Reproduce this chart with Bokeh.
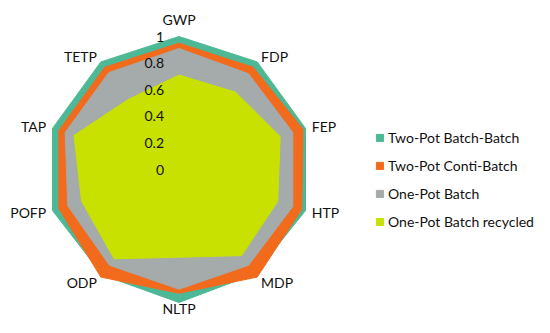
import numpy as np
from bokeh.plotting import figure
from bokeh.models import Range1d, Legend, LegendItem, ColumnDataSource
from bokeh.core.properties import value
from bokeh.embed import file_html
from bokeh.resources import INLINE

categories = ["GWP", "FDP", "FEP", "HTP", "MDP", "NLTP", "ODP", "POFP", "TAP", "TETP"]
series_names = ["Two-Pot Batch-Batch", "Two-Pot Conti-Batch", "One-Pot Batch", "One-Pot Batch recycled"]
two_pot_batch_batch = [1.00, 1.00, 1.00, 1.00, 0.97, 1.00, 0.98, 1.00, 1.00, 1.00]
two_pot_conti_batch = [0.95, 0.95, 0.98, 0.97, 1.00, 0.93, 1.00, 0.95, 0.95, 0.95]
one_pot_batch = [0.91, 0.89, 0.90, 0.90, 0.89, 0.90, 0.89, 0.88, 0.90, 0.90]
one_pot_batch_recycled = [0.71, 0.72, 0.80, 0.78, 0.80, 0.66, 0.83, 0.77, 0.83, 0.65]
tick_values = [0, 0.2, 0.4, 0.6, 0.8, 1]
tick_labels = ["0", "0.2", "0.4", "0.6", "0.8", "1"]

colors = ["#4DB895", "#F26B1C", "#A5AAAA", "#C8E100"]
all_series = [two_pot_batch_batch, two_pot_conti_batch, one_pot_batch, one_pot_batch_recycled]

W, H = 534, 317
scale = 133.0
cx, cy = 178.5, 169.0  # center in canvas px
x0 = -cx / scale
x1 = (W - cx) / scale
y1 = cy / scale
y0 = -(H - cy) / scale

p = figure(width=W, height=H, output_backend="svg", toolbar_location=None,
           x_range=Range1d(x0, x1), y_range=Range1d(y0, y1), min_border=0)
p.axis.visible = False
p.grid.visible = False
p.outline_line_color = None
p.background_fill_color = "white"

n = len(categories)
angles = np.pi / 2 - np.arange(n) * 2 * np.pi / n

renderers = []
for vals, col in zip(all_series, colors):
    v = np.array(vals)
    xs = list(v * np.cos(angles))
    ys = list(v * np.sin(angles))
    r = p.patch(xs, ys, fill_color=col, line_color=col, line_width=1)
    renderers.append(r)

font = "Lato"
# tick labels
p.text(x=[0] * len(tick_values), y=tick_values, text=tick_labels, x_offset=-15,
       text_align="right", text_baseline="middle", text_font=value(font),
       text_font_size="14px", text_color="#111111")

# category labels
lx, ly, al, bl = [], [], [], []
for a in angles:
    c, s = np.cos(a), np.sin(a)
    if abs(c) < 0.1:
        al.append("center")
        if s > 0:
            rr = 1.13
            bl.append("middle")
        else:
            rr = (H - 1 - cy) / scale
            bl.append("bottom")
    else:
        rr = 1.05
        al.append("left" if c > 0 else "right")
        bl.append("middle")
    lx.append(rr * c)
    ly.append(rr * s)
src = ColumnDataSource(dict(x=lx, y=ly, t=categories, a=al, b=bl))
p.text(x="x", y="y", text="t", text_align="a", text_baseline="b", source=src,
       text_font=value(font), text_font_size="14px", text_color="#111111")

legend = Legend(items=[LegendItem(label=nm, renderers=[r]) for nm, r in zip(series_names, renderers)],
                location=(375, 86), glyph_width=9, glyph_height=9, label_standoff=4,
                label_height=20, spacing=8, padding=0, margin=0,
                label_text_font=font, label_text_font_size="14px", label_text_color="#111111",
                border_line_color=None, background_fill_alpha=0)
p.add_layout(legend, "center")

open("out.html", "w").write(file_html(p, INLINE))
